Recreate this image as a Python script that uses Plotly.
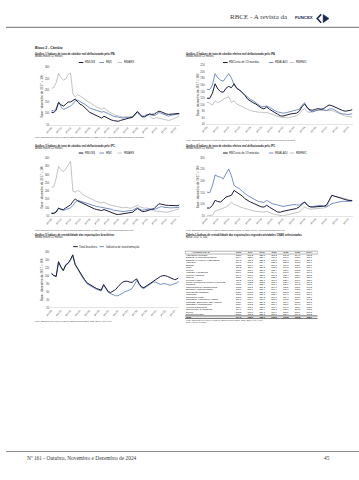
import plotly.graph_objects as go
import pandas as pd

W, H = 359, 480
SANS = "Liberation Sans, Arial, sans-serif"
SERIF = "Liberation Serif, Times New Roman, serif"

def X(px):
    return px / W

def Y(py):
    return 1 - py / H

# ---------------- DATA ----------------
dates = list(pd.date_range("1998-01-01", "2024-07-01", freq="6MS").strftime("%Y-%m-%d")) + ["2024-10-01"]
tick_dates = [f"{y}-01-01" for y in range(1998, 2025, 2)]
tick_labels = ["jan/98", "jan/00", "jan/02", "jan/04", "jan/06", "jan/08", "jan/10",
               "jan/12", "jan/14", "jan/16", "jan/18", "jan/20", "jan/22", "jan/24"]

# Gráfico 1 - IPA, bilateral
g1_usd = [105, 104, 115, 148, 138, 132, 140, 150, 150, 155, 163, 150, 140, 135, 125, 112, 105, 100, 95, 88,
          82, 80, 88, 82, 75, 72, 69, 66, 66, 70, 73, 76, 78, 79, 84, 98, 108, 96, 86, 85,
          92, 98, 96, 97, 104, 110, 107, 102, 98, 96, 97, 96, 98, 99, 100]
g1_eur = [112, 112, 122, 150, 130, 118, 122, 128, 132, 142, 155, 158, 150, 145, 140, 130, 124, 120, 116, 112,
          110, 106, 108, 103, 96, 90, 88, 86, 83, 80, 80, 82, 84, 84, 86, 95, 104, 92, 86, 88,
          94, 96, 92, 90, 96, 104, 101, 96, 90, 88, 92, 94, 95, 96, 98]
g1_ars = [210, 212, 235, 275, 255, 245, 250, 270, 276, 185, 172, 182, 176, 168, 160, 153, 148, 140, 134, 128,
          122, 118, 124, 115, 108, 102, 96, 92, 90, 86, 84, 88, 84, 80, 84, 92, 110, 98, 90, 92,
          96, 88, 80, 78, 82, 80, 76, 74, 72, 70, 72, 76, 80, 86, 90]

# Gráfico 2 - IPA, efetiva
g2_cesta = [120, 119, 135, 164, 148, 140, 138, 150, 156, 152, 164, 150, 145, 138, 128, 117, 110, 106, 102, 96,
            90, 87, 93, 86, 80, 76, 71, 66, 65, 68, 70, 72, 73, 74, 80, 94, 102, 90, 84, 83,
            86, 88, 86, 88, 94, 99, 97, 93, 89, 84, 82, 80, 81, 83, 85]
g2_aladi = [147, 146, 160, 195, 182, 175, 172, 185, 195, 182, 160, 150, 145, 138, 130, 122, 116, 112, 106, 100,
            94, 94, 96, 92, 86, 82, 78, 76, 74, 75, 77, 79, 80, 82, 86, 98, 106, 90, 80, 78,
            82, 84, 86, 84, 82, 86, 88, 84, 78, 74, 72, 70, 70, 71, 73]
g2_rmc = [107, 105, 98, 112, 106, 110, 117, 120, 124, 107, 112, 102, 98, 94, 88, 84, 82, 80, 78, 77,
          77, 75, 76, 73, 70, 67, 64, 62, 61, 60, 60, 62, 64, 66, 72, 82, 88, 78, 76, 79,
          82, 82, 82, 81, 80, 81, 82, 79, 75, 71, 67, 65, 64, 63, 62]

# Gráfico 3 - IPC, bilateral
g3_usd = [66, 66, 75, 98, 92, 90, 100, 110, 118, 138, 154, 142, 135, 128, 120, 110, 104, 98, 94, 90,
          86, 84, 90, 84, 78, 72, 66, 62, 60, 62, 64, 66, 68, 70, 74, 86, 96, 88, 78, 78,
          84, 90, 92, 96, 108, 125, 122, 118, 116, 115, 114, 113, 112, 113, 118]
g3_eur = [70, 70, 78, 100, 90, 85, 90, 95, 100, 115, 135, 145, 140, 135, 130, 125, 120, 116, 112, 108,
          106, 104, 102, 100, 95, 92, 86, 84, 80, 78, 78, 80, 82, 82, 86, 94, 102, 92, 86, 88,
          92, 94, 92, 90, 96, 102, 108, 104, 102, 100, 100, 101, 100, 102, 104]
g3_ars = [224, 226, 280, 348, 330, 318, 334, 360, 380, 200, 195, 205, 198, 180, 172, 164, 158, 150, 144, 138,
          132, 130, 134, 126, 120, 116, 112, 108, 106, 102, 100, 104, 100, 98, 102, 108, 116, 106, 100, 98,
          100, 92, 86, 82, 80, 78, 76, 74, 74, 76, 80, 82, 86, 90, 94]

# Gráfico 4 - IPC, efetiva
g4_cesta = [84, 84, 95, 117, 112, 110, 120, 131, 135, 139, 160, 153, 146, 136, 124, 116, 110, 105, 99, 94,
            89, 88, 96, 88, 79, 74, 67, 66, 70, 72, 74, 76, 79, 82, 89, 100, 110, 96, 89, 88,
            89, 90, 89, 92, 96, 115, 139, 135, 130, 128, 124, 120, 117, 116, 117]
g4_aladi = [153, 150, 180, 227, 220, 217, 210, 235, 253, 224, 181, 174, 167, 156, 146, 138, 131, 124, 117, 112,
            110, 108, 117, 110, 103, 100, 96, 93, 91, 93, 96, 98, 99, 98, 96, 104, 110, 96, 89, 91,
            93, 95, 96, 92, 89, 95, 103, 106, 110, 111, 113, 112, 113, 113, 114]
g4_rmc = [50, 51, 53, 70, 74, 78, 81, 88, 96, 110, 99, 96, 89, 85, 81, 78, 74, 72, 70, 68,
          67, 66, 70, 64, 60, 56, 53, 51, 50, 53, 56, 58, 60, 62, 67, 78, 89, 82, 79, 80,
          81, 81, 81, 84, 89, 110, 139, 136, 131, 128, 124, 121, 119, 118, 117]

# Gráfico 5 - rentabilidade
g5_total = [105, 100, 98, 135, 122, 113, 127, 131, 140, 152, 128, 118, 108, 98, 90, 82, 78, 74, 70, 68,
            66, 64, 78, 68, 60, 58, 62, 65, 72, 78, 84, 86, 86, 84, 83, 88, 92, 80, 72, 70,
            74, 78, 84, 88, 92, 96, 98, 100, 100, 98, 95, 92, 90, 92, 94]
g5_ind = [106, 101, 99, 133, 120, 112, 125, 130, 138, 150, 128, 116, 106, 96, 88, 80, 76, 72, 68, 66,
          64, 62, 76, 66, 58, 55, 52, 50, 50, 52, 56, 60, 62, 64, 68, 78, 88, 78, 70, 68,
          72, 76, 82, 84, 84, 80, 78, 80, 80, 78, 76, 78, 80, 82, 86]

for s in [g1_usd, g1_eur, g1_ars, g2_cesta, g2_aladi, g2_rmc, g3_usd, g3_eur, g3_ars,
          g4_cesta, g4_aladi, g4_rmc, g5_total, g5_ind]:
    assert len(s) == len(dates), len(s)

# Tabela 1
tab_header = ["Atividades CNAE", "2018", "2019", "2020", "2021", "2022", "2023", "2024*"]
tab_rows = ["Agricultura e pecuária", "Extração de minerais metálicos", "Extração de petróleo e gás natural",
            "Alimentos", "Bebidas", "Fumo", "Têxteis", "Vestuário e acessórios", "Couros e calçados",
            "Madeira", "Celulose e papel", "Coque, derivados de petróleo e biocomb.", "Químicos",
            "Farmoquímicos e farmacêuticos", "Borracha e material plástico", "Minerais não-metálicos",
            "Metalurgia", "Produtos de metal", "Informática, eletrônicos e ópticos",
            "Máquinas, aparelhos e mat. elétricos", "Máquinas e equipamentos", "Veículos automotores",
            "Outros equip. de transporte", "Móveis", "Produtos diversos", "Total"]
tab_2018 = ["103,1", "101,4", "109,5", "104,8", "102,3", "106,2", "103,7", "101,9", "104,1", "105,6", "107,3", "98,7", "102,8",
            "103,5", "102,6", "103,9", "105,2", "102,1", "101,7", "102,9", "103,4", "102,4", "104,6", "103,2", "102,7", "104,3"]
tab_2019 = ["107,2", "112,9", "111,3", "108,1", "106,7", "110,4", "108,9", "105,3", "107,6", "109,8", "104,2", "103,5", "106,9",
            "107,1", "106,4", "108,2", "109,5", "105,8", "104,9", "106,6", "107,3", "106,1", "108,7", "107,8", "106,3", "108,0"]
tab_2020 = ["125,6", "128,4", "133,2", "124,9", "119,4", "127,3", "126,1", "118,6", "123,8", "129,5", "121,7", "115,2", "122,4",
            "124,3", "121,9", "125,2", "127,8", "120,3", "117,6", "121,2", "123,1", "120,8", "126,4", "124,1", "121,5", "125,1"]
tab_2021 = ["118,3", "119,5", "124,8", "121,7", "116,2", "122,6", "120,4", "114,9", "119,2", "125,1", "117,8", "112,6", "118,1",
            "119,6", "117,4", "120,7", "123,4", "116,5", "113,8", "117,1", "118,9", "116,9", "121,3", "119,9", "117,6", "120,5"]
tab_2022 = ["110,3", "106,7", "117,6", "113,2", "109,8", "114,5", "111,6", "108,1", "112,4", "115,7", "112,9", "108,4", "110,7",
            "111,2", "110,1", "112,3", "114,6", "109,4", "107,5", "109,9", "111,0", "109,6", "113,1", "111,8", "110,4", "112,8"]
tab_2023 = ["104,7", "103,6", "108,4", "106,5", "103,9", "107,8", "105,2", "102,4", "105,9", "108,1", "101,6", "100,9", "104,3",
            "105,1", "103,8", "105,6", "107,2", "103,1", "101,9", "103,7", "104,6", "103,4", "106,3", "105,4", "104,1", "105,8"]
tab_2024 = ["107,3", "105,1", "110,2", "108,9", "106,1", "109,4", "107,7", "104,8", "108,3", "110,6", "103,9", "104,2", "106,8",
            "107,2", "106,0", "107,9", "109,7", "105,4", "104,3", "105,8", "106,9", "105,6", "108,5", "107,5", "106,3", "108,1"]

# ---------------- STYLE ----------------
C_DARK = "#1c1c3a"
C_BLUE = "#5273b8"
C_GRAY = "#b4b4b4"
TXT = "#262626"

fig = go.Figure()

charts = [
    ("", (45, 177), (66, 124), (50, 300), 50,
     [(g1_usd, C_DARK, 1.0), (g1_eur, C_BLUE, 0.8), (g1_ars, C_GRAY, 0.8)]),
    ("2", (203, 353), (64, 123.3), (40, 220), 20,
     [(g2_cesta, C_DARK, 1.0), (g2_aladi, C_BLUE, 0.8), (g2_rmc, C_GRAY, 0.8)]),
    ("3", (45, 177), (157.3, 216), (50, 400), 50,
     [(g3_usd, C_DARK, 1.0), (g3_eur, C_BLUE, 0.8), (g3_ars, C_GRAY, 0.8)]),
    ("4", (203, 353), (157.3, 215.7), (50, 300), 50,
     [(g4_cesta, C_DARK, 1.0), (g4_aladi, C_BLUE, 0.8), (g4_rmc, C_GRAY, 0.8)]),
    ("5", (45, 176), (251.7, 308.3), (20, 160), 20,
     [(g5_total, C_DARK, 1.0), (g5_ind, C_BLUE, 0.8)]),
]

layout_axes = {}
for suf, (x0, x1), (yt, yb), yr, dt, series in charts:
    for vals, col, lw in series[::-1]:
        fig.add_trace(go.Scatter(x=dates, y=vals, mode="lines", line=dict(color=col, width=lw),
                                 xaxis="x" + suf, yaxis="y" + suf, showlegend=False, hoverinfo="skip"))
    layout_axes["xaxis" + suf] = dict(
        domain=[X(x0), X(x1)], anchor="y" + suf, type="date",
        range=["1997-10-01", "2024-12-01"], tickvals=tick_dates, ticktext=tick_labels,
        tickangle=-45, tickfont=dict(size=2.6, color="#404040", family=SANS),
        showgrid=False, zeroline=False, showline=True, linecolor="#c8c8c8", linewidth=0.5,
        ticks="", fixedrange=True)
    layout_axes["yaxis" + suf] = dict(
        domain=[Y(yb), Y(yt)], anchor="x" + suf, range=list(yr), dtick=dt,
        tickfont=dict(size=2.6, color="#404040", family=SANS),
        showgrid=False, zeroline=False, showline=False, ticks="", fixedrange=True,
        title=dict(text="Base : dezembro de 2017 = 100", font=dict(size=3.0, color="#404040", family=SANS), standoff=1))

# ---------------- TABLE (text traces) ----------------
col_pos = [16, 54.5, 66.5, 78.5, 90.5, 102.5, 114.5, 126.5]
row_idx = list(range(1, len(tab_rows) + 1))
tab_cols = [tab_2018, tab_2019, tab_2020, tab_2021, tab_2022, tab_2023, tab_2024]
fig.add_trace(go.Scatter(x=[col_pos[i] for i in range(8)], y=[0] * 8, mode="text", text=tab_header,
                         textfont=dict(size=2.3, color="#000", family=SANS), textposition="middle center",
                         xaxis="x6", yaxis="y6", showlegend=False, hoverinfo="skip"))
fig.add_trace(go.Scatter(x=[1] * len(tab_rows), y=row_idx, mode="text",
                         text=[r if r != "Total" else "<b>Total</b>" for r in tab_rows],
                         textfont=dict(size=2.2, color="#000", family=SANS), textposition="middle right",
                         xaxis="x6", yaxis="y6", showlegend=False, hoverinfo="skip"))
for j, colvals in enumerate(tab_cols):
    fig.add_trace(go.Scatter(x=[col_pos[j + 1]] * len(colvals), y=row_idx, mode="text",
                             text=colvals[:-1] + ["<b>" + colvals[-1] + "</b>"],
                             textfont=dict(size=2.2, color="#000", family=SANS), textposition="middle center",
                             xaxis="x6", yaxis="y6", showlegend=False, hoverinfo="skip"))
layout_axes["xaxis6"] = dict(domain=[X(182), X(317)], anchor="y6", range=[0, 135], visible=False, fixedrange=True)
layout_axes["yaxis6"] = dict(domain=[Y(320), Y(250)], anchor="x6", range=[26.88, -1.12], visible=False, fixedrange=True)

shapes = []
shapes.append(dict(type="rect", xref="x6", yref="y6", x0=0, x1=135, y0=-0.6, y1=0.55,
                   line=dict(color="#7f7f7f", width=0.6)))
for yy in (25.5, 26.5):
    shapes.append(dict(type="line", xref="x6", yref="y6", x0=0, x1=135, y0=yy, y1=yy,
                       line=dict(color="#000", width=0.6)))

# page rules
shapes.append(dict(type="line", xref="paper", yref="paper", x0=0, x1=1, y0=Y(25.5), y1=Y(25.5),
                   line=dict(color="#8c8c8c", width=1.2)))
shapes.append(dict(type="line", xref="paper", yref="paper", x0=0, x1=1, y0=Y(453.3), y1=Y(453.3),
                   line=dict(color="#8c8c8c", width=1.2)))
# logo
shapes.append(dict(type="path", xref="paper", yref="paper",
                   path=f"M {X(320.5)} {Y(12.5)} L {X(316.5)} {Y(16.7)} L {X(320.5)} {Y(20.9)}",
                   line=dict(color="#1b2a4a", width=1.6)))
shapes.append(dict(type="path", xref="paper", yref="paper",
                   path=f"M {X(322.5)} {Y(12.5)} L {X(328.5)} {Y(16.7)} L {X(322.5)} {Y(20.9)} Z",
                   fillcolor="#1b2a4a", line=dict(color="#1b2a4a", width=0.5)))

annotations = []

def txt(x, y, s, size, bold=False, color=TXT, family=SANS, xanchor="left"):
    annotations.append(dict(x=X(x), y=Y(y), xref="paper", yref="paper", text=("<b>%s</b>" % s) if bold else s,
                            showarrow=False, xanchor=xanchor, yanchor="middle", borderpad=0,
                            font=dict(size=size, color=color, family=family)))

def legend(items, y):
    for (x0, label, col, lw) in items:
        shapes.append(dict(type="line", xref="paper", yref="paper", x0=X(x0), x1=X(x0 + 4.7), y0=Y(y), y1=Y(y),
                           line=dict(color=col, width=lw)))
        txt(x0 + 5.3, y, label, 2.8)

# header / footer
txt(227, 15.5, "RBCE - A revista da", 7.0, color="#3a3a3a", family=SERIF)
txt(292.5, 15.8, "FUNCEX", 4.3, bold=True, color="#1b2a4a")
txt(20, 460, "Nº 161 - Outubro, Novembro e Dezembro de 2024", 5.4, color="#3a3a3a", family=SERIF)
txt(331, 460, "45", 5.4, color="#3a3a3a", family=SERIF, xanchor="right")

txt(28, 46.7, "Bloco 2 - Câmbio", 3.4, bold=True)

# chart 1
txt(28, 51.7, "Gráfico 1 Índices de taxa de câmbio real deflacionada pelo IPA", 2.7, bold=True)
txt(28, 54.3, "Média móvel 12 meses", 2.7)
legend([(74, "R$/US$", C_DARK, 1.0), (95, "R$/€", C_BLUE, 0.8), (113.3, "R$/ARS", C_GRAY, 0.8)], 61)
txt(28, 136.7, "Fonte: Elaborado pela Funcex a partir de dados do Banco Central, do IBGE e do FMI. Índices calculados pela média de 12 meses.", 1.9, color="#404040")

# chart 2
txt(182, 51.7, "Gráfico 2 Índices de taxa de câmbio efetiva real deflacionada pelo IPA", 2.7, bold=True)
txt(182, 54.3, "Média móvel 12 meses", 2.7)
legend([(220.7, "R$/Cesta de 13 moedas", C_DARK, 1.0), (267.3, "R$/ALADI", C_BLUE, 0.8), (288.3, "R$/RMC", C_GRAY, 0.8)], 61)
txt(182, 139.3, "Fonte: Elaborado pela Funcex a partir de dados do Banco Central, do IBGE e do FMI. Índices calculados pela média de 12 meses.", 1.9, color="#404040")

# chart 3
txt(28, 144.3, "Gráfico 3 Índices de taxa de câmbio real deflacionada pelo IPC", 2.7, bold=True)
txt(28, 146.9, "Média móvel 12 meses", 2.7)
legend([(74, "R$/US$", C_DARK, 1.0), (95, "R$/€", C_BLUE, 0.8), (113.3, "R$/ARS", C_GRAY, 0.8)], 152.3)
txt(28, 230, "Fonte: Elaborado pela Funcex a partir de dados do Banco Central, do IBGE e do FMI. Índices deflacionados pelo IPC.", 1.9, color="#404040")

# chart 4
txt(182, 144.3, "Gráfico 4 Índices de taxa de câmbio efetiva real deflacionada pelo IPC", 2.7, bold=True)
txt(182, 146.9, "Média móvel 12 meses", 2.7)
legend([(220.7, "R$/Cesta de 13 moedas", C_DARK, 1.0), (267.3, "R$/ALADI", C_BLUE, 0.8), (288.3, "R$/RMC", C_GRAY, 0.8)], 152.3)
txt(182, 230, "Fonte: Elaborado pela Funcex a partir de dados do Banco Central, do IBGE e do FMI. Índices deflacionados pelo IPC.", 1.9, color="#404040")

# chart 5
txt(28, 234, "Gráfico 5 Índices de rentabilidade das exportações brasileiras", 2.7, bold=True)
txt(28, 236.6, "Média móvel 12 meses", 2.7)
legend([(68.3, "Total brasileiro", C_DARK, 1.0), (95, "Indústria de transformação", C_BLUE, 0.8)], 246.7)
txt(28, 321.7, "Fonte: Elaborado pela Funcex a partir de dados da Secex/MDIC, IBGE, Bacen, Fipe e Ipea.", 1.9, color="#404040")

# table 1
txt(182, 234, "Tabela 1 Índices de rentabilidade das exportações segundo atividades CNAE selecionadas", 2.7, bold=True)
txt(182, 236.6, "Base: 2017 = 100", 2.7)
txt(182, 320.8, "Fonte: Elaborado pela Funcex a partir de dados da Secex/MDIC, IBGE, Bacen, Fipe e Ipea.", 1.9, color="#404040")
txt(182, 322.9, "Nota: * janeiro a outubro.", 1.9, color="#404040")

fig.update_layout(
    width=W, height=H, margin=dict(l=0, r=0, t=0, b=0),
    paper_bgcolor="white", plot_bgcolor="white",
    showlegend=False, hovermode=False,
    shapes=shapes, annotations=annotations,
    **layout_axes,
)

fig.write_html("out.html", config={"displayModeBar": False, "staticPlot": True},
               post_script="document.body.style.margin='0';")
